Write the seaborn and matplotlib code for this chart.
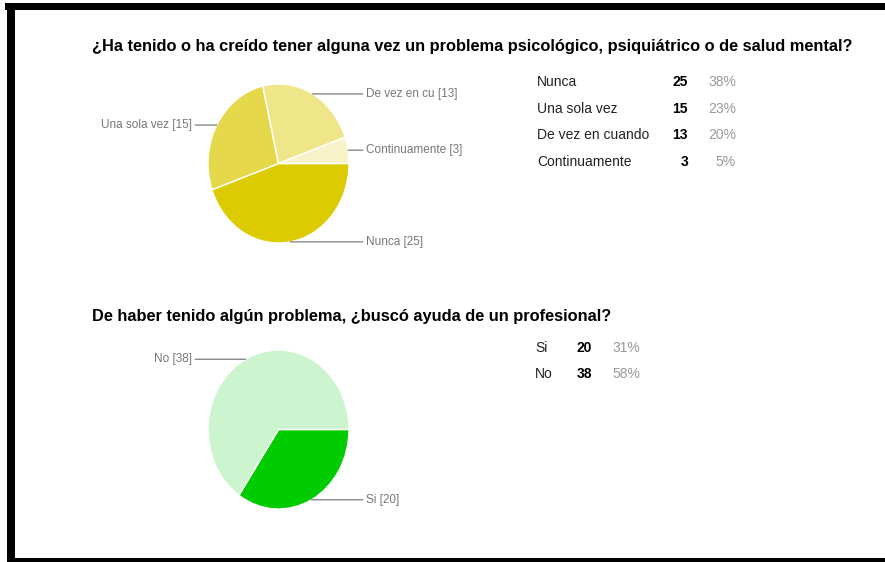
import numpy as np
import matplotlib
matplotlib.use("Agg")
import matplotlib.pyplot as plt
import matplotlib.transforms as mtrans
from matplotlib.patches import Rectangle
import seaborn as sns

sns.set_theme(style="white")
plt.rcParams["font.family"] = ["Liberation Sans", "DejaVu Sans"]

# ── data ──────────────────────────────────────────────────────────────────────
q1_title   = "¿Ha tenido o ha creído tener alguna vez un problema psicológico, psiquiátrico o de salud mental?"
q1_labels  = ["Nunca", "Una sola vez", "De vez en cuando", "Continuamente"]
q1_short   = ["Nunca", "Una sola vez", "De vez en cu", "Continuamente"]
q1_counts  = [25, 15, 13, 3]
q1_pcts    = [38, 23, 20, 5]
q1_colors  = ["#DCCB00", "#E5D84A", "#EFE68A", "#F7F2C8"]

q2_title   = "De haber tenido algún problema, ¿buscó ayuda de un profesional?"
q2_labels  = ["Si", "No"]
q2_counts  = [20, 38]
q2_pcts    = [31, 58]
q2_colors  = ["#00CC00", "#CCF5CF"]

W, H = 885, 562
fig = plt.figure(figsize=(W / 100, H / 100), dpi=100)
fig.patch.set_facecolor("white")

# overlay in pixel coordinates for titles, tables and frame
ov = fig.add_axes([0, 0, 1, 1])
ov.set_xlim(0, W); ov.set_ylim(H, 0)
ov.axis("off")

# black frame (top, left, bottom)
for x0, y0, w, h in [(5, 3, W - 5, 7), (7, 3, 8, H - 3), (7, 558, W - 7, 4)]:
    ov.add_patch(Rectangle((x0, y0), w, h, color="black", lw=0))


def pie_block(box, counts, colors, labels, side):
    left, top, right, bottom = box
    ax = fig.add_axes([left / W, 1 - bottom / H, (right - left) / W, (bottom - top) / H])
    wedges, _ = ax.pie(counts, colors=colors, startangle=0, counterclock=False,
                       wedgeprops=dict(edgecolor="white", linewidth=1))
    ax.set_aspect("auto")
    ax.set_xlim(-1, 1); ax.set_ylim(-1, 1)
    ax.axis("off")
    tr = mtrans.blended_transform_factory(ov.transData, ax.transData)
    for w, lab, n, s in zip(wedges, labels, counts, side):
        mid = np.deg2rad((w.theta1 + w.theta2) / 2)
        px, py = np.cos(mid), np.sin(mid)
        tx = 366 if s == "r" else 192
        ax.annotate(f"{lab} [{n}]", xy=(px, py), xycoords="data",
                    xytext=(tx, py), textcoords=tr,
                    ha="left" if s == "r" else "right", va="center",
                    fontsize=8.5, color="#777777",
                    arrowprops=dict(arrowstyle="-", color="#888888", lw=1,
                                    shrinkA=0, shrinkB=0))
    return ax


def table(x_lab, x_cnt, x_pct, y0, dy, labels, counts, pcts):
    for i, (lab, n, p) in enumerate(zip(labels, counts, pcts)):
        y = y0 + i * dy
        ov.text(x_lab, y, lab, ha="left", va="center", fontsize=10, color="#222222")
        ov.text(x_cnt, y, str(n), ha="right", va="center", fontsize=10,
                fontweight="bold", color="black")
        ov.text(x_pct, y, f"{p}%", ha="right", va="center", fontsize=10, color="#999999")


# ── question 1 ────────────────────────────────────────────────────────────────
ov.text(92, 47, q1_title, ha="left", va="center", fontsize=11.8,
        fontweight="bold", color="black")
pie_block((208, 84, 349, 243), q1_counts, q1_colors, q1_short, ["r", "l", "r", "r"])
table(537, 688, 736, 82, 26.7, q1_labels, q1_counts, q1_pcts)

# ── question 2 ────────────────────────────────────────────────────────────────
ov.text(92, 316, q2_title, ha="left", va="center", fontsize=11.8,
        fontweight="bold", color="black")
pie_block((208, 350, 349, 509), q2_counts, q2_colors, q2_labels, ["r", "l"])
table(535, 592, 640, 348, 26.5, q2_labels, q2_counts, q2_pcts)

fig.savefig("out.png", dpi=100)
